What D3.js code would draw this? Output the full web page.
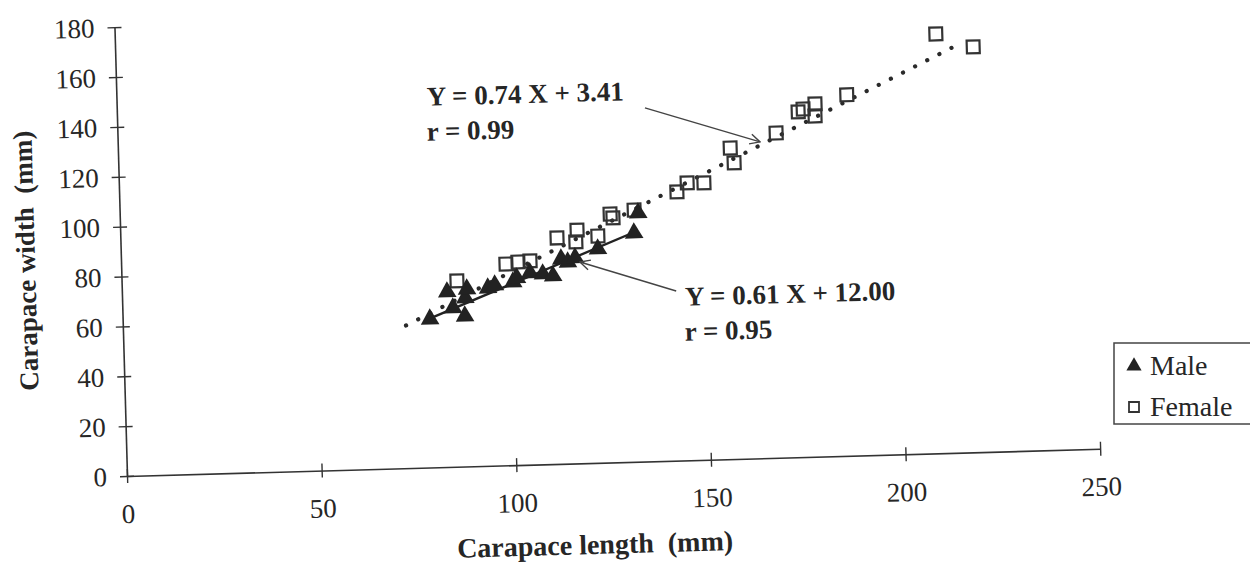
<!DOCTYPE html>
<html>
<head>
<meta charset="utf-8">
<script src="https://cdn.jsdelivr.net/npm/d3@7"></script>
<style>
  body { margin: 0; background: #fff; }
  svg { display: block; font-family: 'Liberation Serif', 'Times New Roman', serif; }
</style>
</head>
<body>
<svg></svg>
<script>
// values (mm)
const maleLength = [78.9, 83.5, 84.9, 88.1, 87.9, 88.6, 94.0, 95.8, 100.5, 101.5, 104.9, 108.2, 110.8, 113.0, 114.7, 116.6, 122.5, 131.9, 133.1];
const maleWidth = [59.5, 70.2, 63.7, 67.6, 60.3, 71.1, 71.3, 72.4, 73.4, 75.0, 76.9, 76.3, 75.4, 82.1, 80.8, 82.4, 85.7, 91.7, 99.7];

const femaleLength = [86.1, 98.8, 101.9, 105.0, 112.1, 117.3, 116.9, 122.6, 125.9, 126.6, 132.1, 143.2, 145.9, 150.2, 157.2, 158.1, 169.1, 174.9, 176.2, 179.3, 179.2, 187.5, 210.8, 220.3];
const femaleWidth = [74.5, 80.7, 81.4, 81.7, 90.6, 93.5, 88.8, 90.9, 99.6, 98.0, 100.9, 107.7, 111.2, 111.0, 124.7, 118.7, 130.2, 138.4, 139.5, 141.4, 136.6, 144.7, 168.1, 162.5];

// regression line end points
const maleFitX = [78.5, 131.9];
const maleFitY = [59.5, 92.0];
const femaleFitX = [72.7, 217.5];
const femaleFitY = [57.2, 164.4];

const xTicks = [0, 50, 100, 150, 200, 250];
const yTicks = [0, 20, 40, 60, 80, 100, 120, 140, 160, 180];

const eqLabels = ['Y = 0.74 X + 3.41', 'r = 0.99', 'Y = 0.61 X + 12.00', 'r = 0.95'];
const eqAt = [[79.7, 145.0], [79.4, 131.0], [144.5, 62.0], [144.2, 48.0]];
const arrowFrom = [[135.6, 141.7], [142.3, 68.0]];
const arrowTo = [[164.9, 126.8], [117.8, 80.7]];

const legendLabels = ['Male', 'Female'];

const width = 1250;
const height = 566;
const originX = 127;
const originY = 476;
const tilt = -1.6; // the scan is slightly rotated
const plotW = 973.5;
const plotH = 449;
const ink = '#262626';

const svg = d3.select('svg').attr('width', width).attr('height', height);

const defs = svg.append('defs');
defs.append('marker')
  .attr('id', 'head')
  .attr('viewBox', '0 0 12 12')
  .attr('refX', 11)
  .attr('refY', 6)
  .attr('markerWidth', 12)
  .attr('markerHeight', 12)
  .attr('markerUnits', 'userSpaceOnUse')
  .attr('orient', 'auto')
  .append('path')
  .attr('d', 'M1,1 L11,6 L1,11')
  .attr('fill', 'none')
  .attr('stroke', '#444')
  .attr('stroke-width', 1.4);

const xScale = d3.scaleLinear().domain([0, 250]).range([0, plotW]);
const yScale = d3.scaleLinear().domain([0, 180]).range([0, -plotH]);

const g = svg.append('g')
  .attr('transform', 'translate(' + originX + ',' + originY + ') rotate(' + tilt + ')');

// axes
const xAxis = d3.axisBottom(xScale).tickValues(xTicks).tickSize(7).tickSizeOuter(0);
const gx = g.append('g').call(xAxis)
  .attr('font-family', null)
  .attr('font-size', 27);
gx.select('.domain').attr('stroke', '#333').attr('stroke-width', 1.6);
gx.selectAll('.tick line').attr('y1', -7).attr('stroke', '#333').attr('stroke-width', 1.4);
gx.selectAll('.tick text').attr('y', 47).attr('dy', 0).attr('fill', ink);

const yAxis = d3.axisLeft(yScale).tickValues(yTicks).tickSize(7).tickSizeOuter(0);
const gy = g.append('g').call(yAxis)
  .attr('font-family', null)
  .attr('font-size', 27);
gy.select('.domain').attr('stroke', '#333').attr('stroke-width', 1.6);
gy.selectAll('.tick line').attr('x1', 7).attr('stroke', '#333').attr('stroke-width', 1.4);
gy.selectAll('.tick text').attr('x', -20).attr('dy', '0.34em').attr('fill', ink);

// axis titles
g.append('text')
  .attr('x', 466)
  .attr('y', 91)
  .attr('text-anchor', 'middle')
  .attr('font-size', 28)
  .attr('font-weight', 'bold')
  .attr('fill', ink)
  .attr('xml:space', 'preserve')
  .text('Carapace length  (mm)');

g.append('text')
  .attr('transform', 'translate(-86,' + (-218) + ') rotate(-90)')
  .attr('text-anchor', 'middle')
  .attr('font-size', 27)
  .attr('font-weight', 'bold')
  .attr('fill', ink)
  .attr('xml:space', 'preserve')
  .text('Carapace width  (mm)');

// regression lines
const line = d3.line().x((d) => xScale(d[0])).y((d) => yScale(d[1]));

g.append('path')
  .datum(d3.zip(femaleFitX, femaleFitY))
  .attr('d', line)
  .attr('fill', 'none')
  .attr('stroke', '#2a2a2a')
  .attr('stroke-width', 4.2)
  .attr('stroke-linecap', 'round')
  .attr('stroke-dasharray', '0.1,13.5');

g.append('path')
  .datum(d3.zip(maleFitX, maleFitY))
  .attr('d', line)
  .attr('fill', 'none')
  .attr('stroke', '#222')
  .attr('stroke-width', 2.4);

// points
const triangle = d3.symbol().type(d3.symbolTriangle).size(150);
const square = d3.symbol().type(d3.symbolSquare).size(165);

g.selectAll('.female')
  .data(d3.zip(femaleLength, femaleWidth))
  .enter()
  .append('path')
  .attr('class', 'female')
  .attr('d', square)
  .attr('transform', (d) => 'translate(' + xScale(d[0]) + ',' + yScale(d[1]) + ')')
  .attr('fill', 'none')
  .attr('stroke', '#333')
  .attr('stroke-width', 2.2);

g.selectAll('.male')
  .data(d3.zip(maleLength, maleWidth))
  .enter()
  .append('path')
  .attr('class', 'male')
  .attr('d', triangle)
  .attr('transform', (d) => 'translate(' + xScale(d[0]) + ',' + yScale(d[1]) + ')')
  .attr('fill', '#222');

// equations and arrows
g.selectAll('.eq')
  .data(eqLabels)
  .enter()
  .append('text')
  .attr('class', 'eq')
  .attr('x', (d, i) => xScale(eqAt[i][0]))
  .attr('y', (d, i) => yScale(eqAt[i][1]))
  .attr('font-size', 27)
  .attr('font-weight', 'bold')
  .attr('fill', ink)
  .text((d) => d);

g.selectAll('.arrow')
  .data(arrowFrom)
  .enter()
  .append('line')
  .attr('class', 'arrow')
  .attr('x1', (d) => xScale(d[0]))
  .attr('y1', (d) => yScale(d[1]))
  .attr('x2', (d, i) => xScale(arrowTo[i][0]))
  .attr('y2', (d, i) => yScale(arrowTo[i][1]))
  .attr('stroke', '#444')
  .attr('stroke-width', 1.4)
  .attr('marker-end', 'url(#head)');

// legend
const legend = svg.append('g');
legend.append('rect')
  .attr('x', 1114)
  .attr('y', 343)
  .attr('width', 150)
  .attr('height', 81)
  .attr('fill', '#fff')
  .attr('stroke', '#444')
  .attr('stroke-width', 1.5);

const legendSymbols = [
  d3.symbol().type(d3.symbolTriangle).size(100),
  d3.symbol().type(d3.symbolSquare).size(100),
];

legendLabels.forEach((label, i) => {
  const cy = 366 + i * 41;
  legend.append('path')
    .attr('d', legendSymbols[i])
    .attr('transform', 'translate(1134,' + cy + ')')
    .attr('fill', i === 0 ? '#222' : 'none')
    .attr('stroke', i === 0 ? 'none' : '#333')
    .attr('stroke-width', 1.8);
  legend.append('text')
    .attr('x', 1150)
    .attr('y', cy + 9)
    .attr('font-size', 28)
    .attr('fill', ink)
    .text(label);
});
</script>
</body>
</html>
